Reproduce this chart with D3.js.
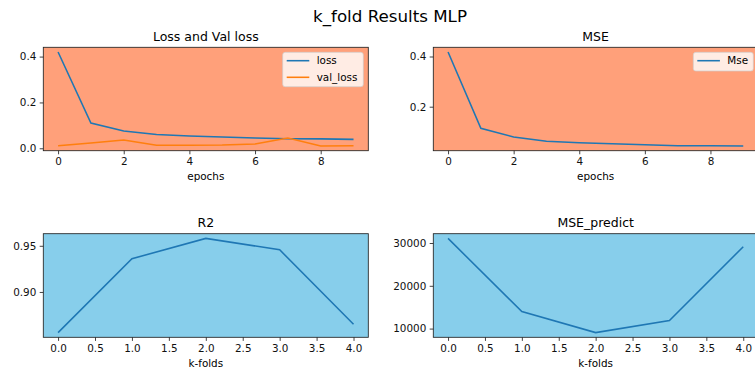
<!DOCTYPE html>
<html>
<head>
<meta charset="utf-8">
<script src="https://cdn.jsdelivr.net/npm/d3@7"></script>
<style>
  body { margin: 0; background: #fff; }
  svg { display: block; font-family: "DejaVu Sans", sans-serif; }
</style>
</head>
<body>
<svg id="chart" width="755" height="376"></svg>
<script>
// data
const epochs = [0, 1, 2, 3, 4, 5, 6, 7, 8, 9];
const loss = [0.420, 0.110, 0.075, 0.060, 0.054, 0.049, 0.045, 0.042, 0.041, 0.039];
const valLoss = [0.011, 0.023, 0.036, 0.013, 0.013, 0.014, 0.019, 0.045, 0.010, 0.011];
const mse = [0.418, 0.114, 0.079, 0.062, 0.0565, 0.0525, 0.0485, 0.0445, 0.0445, 0.0433];
const folds = [0, 1, 2, 3, 4];
const r2 = [0.856, 0.936, 0.958, 0.9457, 0.865];
const msePredict = [31075, 13970, 9065, 11870, 29135];

const epochTicks = [0, 2, 4, 6, 8];
const foldTicks = [0, 0.5, 1, 1.5, 2, 2.5, 3, 3.5, 4];
const lossTicks = [0, 0.2, 0.4];
const mseTicks = [0.2, 0.4];
const r2Ticks = [0.90, 0.95];
const predTicks = [10000, 20000, 30000];

const svg = d3.select("#chart");
const fs = 10.4;
const tickLen = 3.6;

// padded extent like matplotlib's 5% margins
function pad(ext) {
  const m = (ext[1] - ext[0]) * 0.05;
  return [ext[0] - m, ext[1] + m];
}

svg.append("text")
  .attr("x", 390).attr("y", 21.5)
  .attr("text-anchor", "middle")
  .style("font-size", "16.7px")
  .text("k_fold Results MLP");

function panel(opt) {
  const x = d3.scaleLinear().domain(pad(d3.extent(opt.xs))).range([opt.left, opt.right]);
  const allY = opt.series.flatMap(s => s.values);
  const y = d3.scaleLinear().domain(pad(d3.extent(allY))).range([opt.bottom, opt.top]);

  const g = svg.append("g");
  g.append("rect")
    .attr("x", opt.left).attr("y", opt.top)
    .attr("width", opt.right - opt.left).attr("height", opt.bottom - opt.top)
    .attr("fill", opt.bg);

  const line = d3.line().x((d, i) => x(opt.xs[i])).y(d => y(d));
  opt.series.forEach(s => {
    g.append("path")
      .datum(s.values)
      .attr("d", line)
      .attr("fill", "none")
      .attr("stroke", s.color)
      .attr("stroke-width", 1.56);
  });

  g.append("rect")
    .attr("x", opt.left).attr("y", opt.top)
    .attr("width", opt.right - opt.left).attr("height", opt.bottom - opt.top)
    .attr("fill", "none").attr("stroke", "#222").attr("stroke-width", 0.85);

  const xAxis = d3.axisBottom(x).tickValues(opt.xTicks).tickSize(tickLen).tickPadding(3.4)
    .tickFormat(opt.xFmt);
  g.append("g").attr("transform", `translate(0,${opt.bottom})`).call(xAxis)
    .call(a => a.select(".domain").remove())
    .call(a => a.selectAll("line").attr("stroke", "#222").attr("stroke-width", 0.85))
    .call(a => a.selectAll("text").attr("fill", "#111").style("font-size", fs + "px")
      .style("font-family", "DejaVu Sans"));

  const yAxis = d3.axisLeft(y).tickValues(opt.yTicks).tickSize(tickLen).tickPadding(3.4)
    .tickFormat(opt.yFmt);
  g.append("g").attr("transform", `translate(${opt.left},0)`).call(yAxis)
    .call(a => a.select(".domain").remove())
    .call(a => a.selectAll("line").attr("stroke", "#222").attr("stroke-width", 0.85))
    .call(a => a.selectAll("text").attr("fill", "#111").style("font-size", fs + "px")
      .style("font-family", "DejaVu Sans"));

  g.append("text")
    .attr("x", (opt.left + opt.right) / 2).attr("y", opt.top - 6.6)
    .attr("text-anchor", "middle").style("font-size", "12.5px")
    .text(opt.title);

  g.append("text")
    .attr("x", (opt.left + opt.right) / 2).attr("y", opt.bottom + 29.5)
    .attr("text-anchor", "middle").style("font-size", fs + "px")
    .text(opt.xLabel);

  if (opt.legend) {
    const L = opt.legend;
    const lg = g.append("g");
    lg.append("rect")
      .attr("x", L.x).attr("y", L.y).attr("width", L.w).attr("height", L.h)
      .attr("rx", 2.5)
      .attr("fill", "#fff").attr("fill-opacity", 0.8)
      .attr("stroke", "#ccc").attr("stroke-opacity", 0.8).attr("stroke-width", 0.85);
    opt.series.forEach((s, i) => {
      const cy = L.y + 8.4 + i * 16.6;
      lg.append("line")
        .attr("x1", L.x + 4).attr("x2", L.x + 26.6)
        .attr("y1", cy).attr("y2", cy)
        .attr("stroke", s.color).attr("stroke-width", 1.56);
      lg.append("text")
        .attr("x", L.x + 34).attr("y", cy).attr("dy", "0.35em")
        .style("font-size", fs + "px")
        .text(s.name);
    });
  }
}

const salmon = "#FFA07A", sky = "#87CEEB";
const blue = "#1f77b4", orange = "#ff7f0e";
const f1 = d3.format(".1f"), f2 = d3.format(".2f"), fi = d3.format("d");

panel({
  left: 43.3, right: 368.3, top: 47.3, bottom: 150.7, bg: salmon,
  xs: epochs, series: [{ name: "loss", values: loss, color: blue }, { name: "val_loss", values: valLoss, color: orange }],
  xTicks: epochTicks, yTicks: lossTicks, xFmt: fi, yFmt: f1,
  title: "Loss and Val loss", xLabel: "epochs",
  legend: { x: 282.7, y: 52.3, w: 80.6, h: 34.4 }
});

panel({
  left: 433.3, right: 758, top: 47.3, bottom: 150.7, bg: salmon,
  xs: epochs, series: [{ name: "Mse", values: mse, color: blue }],
  xTicks: epochTicks, yTicks: mseTicks, xFmt: fi, yFmt: f1,
  title: "MSE", xLabel: "epochs",
  legend: { x: 693.3, y: 52.3, w: 60, h: 18.7 }
});

panel({
  left: 43.3, right: 368.3, top: 233.7, bottom: 337.3, bg: sky,
  xs: folds, series: [{ name: "R2", values: r2, color: blue }],
  xTicks: foldTicks, yTicks: r2Ticks, xFmt: f1, yFmt: f2,
  title: "R2", xLabel: "k-folds"
});

panel({
  left: 433.3, right: 758, top: 233.7, bottom: 337.3, bg: sky,
  xs: folds, series: [{ name: "MSE_predict", values: msePredict, color: blue }],
  xTicks: foldTicks, yTicks: predTicks, xFmt: f1, yFmt: fi,
  title: "MSE_predict", xLabel: "k-folds"
});
</script>
</body>
</html>
